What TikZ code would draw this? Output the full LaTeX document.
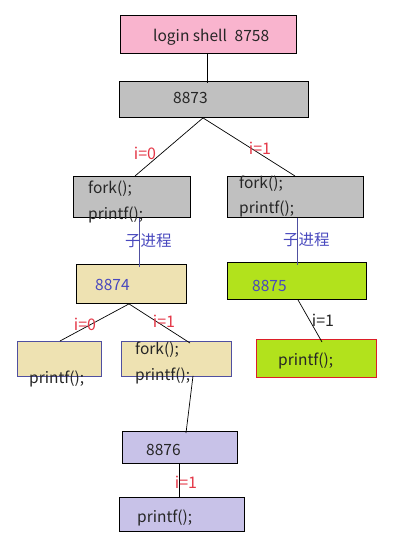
\documentclass[tikz,border=0pt]{standalone}
\usepackage{fontspec}
\setmainfont{Noto Sans CJK SC}
\definecolor{pinkc}{RGB}{249,180,206}
\definecolor{grayc}{RGB}{192,192,192}
\definecolor{beigec}{RGB}{238,226,178}
\definecolor{limec}{RGB}{178,226,28}
\definecolor{lavc}{RGB}{200,194,232}
\definecolor{bluec}{RGB}{72,72,190}
\definecolor{bordc}{RGB}{80,80,160}
\definecolor{redc}{RGB}{228,56,72}
\definecolor{redb}{RGB}{220,30,40}
\tikzset{
  box/.style={draw=black, line width=0.9pt, rectangle, anchor=north west, inner sep=0pt},
  txt/.style={anchor=west, inner sep=0pt, font=\fontsize{15.5}{18}\selectfont, text=black!85},
  lab/.style={inner sep=0pt, font=\fontsize{16}{18}\selectfont, text=redc},
  conn/.style={draw=black, line width=0.7pt},
  bconn/.style={draw=bordc, line width=0.9pt},
}
\begin{document}
\begin{tikzpicture}[x=1pt,y=-1pt]
\useasboundingbox (0,0) rectangle (403,549);
% boxes
\node[box, fill=pinkc, minimum width=176pt, minimum height=38pt] (b1) at (120,15) {};
\node[box, fill=grayc, minimum width=189pt, minimum height=36pt] (b2) at (119,81) {};
\node[box, fill=grayc, minimum width=117pt, minimum height=41pt] (b3) at (73,176) {};
\node[box, fill=grayc, minimum width=136pt, minimum height=41pt] (b4) at (227,176) {};
\node[box, fill=beigec, minimum width=110pt, minimum height=39pt] (b5) at (76,264) {};
\node[box, fill=limec, minimum width=139pt, minimum height=37pt] (b6) at (227,262) {};
\node[box, draw=bordc, fill=beigec, minimum width=84pt, minimum height=35pt] (b7) at (17,341) {};
\node[box, draw=bordc, fill=beigec, minimum width=110pt, minimum height=35pt] (b8) at (121,341) {};
\node[box, draw=redb, fill=limec, minimum width=120pt, minimum height=38pt] (b9) at (256,339) {};
\node[box, fill=lavc, minimum width=115pt, minimum height=32pt] (b10) at (122,431) {};
\node[box, fill=lavc, minimum width=125pt, minimum height=34pt] (b11) at (119,497) {};
% connectors
\draw[conn] ([xshift=87pt]b1.south west) -- ([xshift=88pt,yshift=-2pt]b2.north west);
\draw[conn] ([xshift=84pt]b2.south west) -- ([xshift=62pt]b3.north west);
\draw[conn] ([xshift=84pt]b2.south west) -- ([xshift=68pt]b4.north west);
\draw[bconn] ([xshift=66pt]b3.south west) -- ([xshift=63pt,yshift=-3pt]b5.north west);
\draw[bconn] ([xshift=70pt]b4.south west) -- ([xshift=70pt,yshift=-3pt]b6.north west);
\draw[conn] ([xshift=53pt]b5.south west) -- ([xshift=43pt]b7.north west);
\draw[conn] ([xshift=53pt]b5.south west) -- ([xshift=69pt,yshift=-2pt]b8.north west);
\draw[conn] ([xshift=71pt]b6.south west) -- ([xshift=66pt,yshift=-3pt]b9.north west);
\draw[conn] ([xshift=72pt,yshift=1pt]b8.south west) -- ([xshift=64pt,yshift=-2pt]b10.north west);
\draw[conn] ([xshift=57pt]b10.south west) -- ([xshift=60pt]b11.north west);
% texts
\node[txt] (t1) at (153,37) {login shell\hspace{0.5em}8758};
\node[txt] (t2) at (173,98) {8873};
\node[txt] (t3a) at (88,189) {fork();};
\node[txt] (t3b) at (88,215) {printf();};
\node[txt] (t4a) at (239,184) {fork();};
\node[txt] (t4b) at (239,209) {printf();};
\node[txt, text=bluec] (c1) at (125,241) {子进程};
\node[txt, text=bluec] (c2) at (283,240) {子进程};
\node[txt, text=bluec] (t5) at (95,285) {8874};
\node[txt, text=bluec] (t6) at (252,286) {8875};
\node[txt] (t7) at (29,379) {printf();};
\node[txt] (t8a) at (135,350) {fork();};
\node[txt] (t8b) at (135,376) {printf();};
\node[txt] (t9) at (278,361) {printf();};
\node[txt] (t10) at (146,450) {8876};
\node[txt] (t11) at (137,518) {printf();};
% labels
\node[lab] (l1) at (145,153) {i=0};
\node[lab] (l2) at (260,148) {i=1};
\node[lab] (l3) at (85,324) {i=0};
\node[lab] (l4) at (164,321) {i=1};
\node[lab, text=black!85] (l5) at (323,320) {i=1};
\node[lab] (l6) at (186,482) {i=1};
\end{tikzpicture}
\end{document}
